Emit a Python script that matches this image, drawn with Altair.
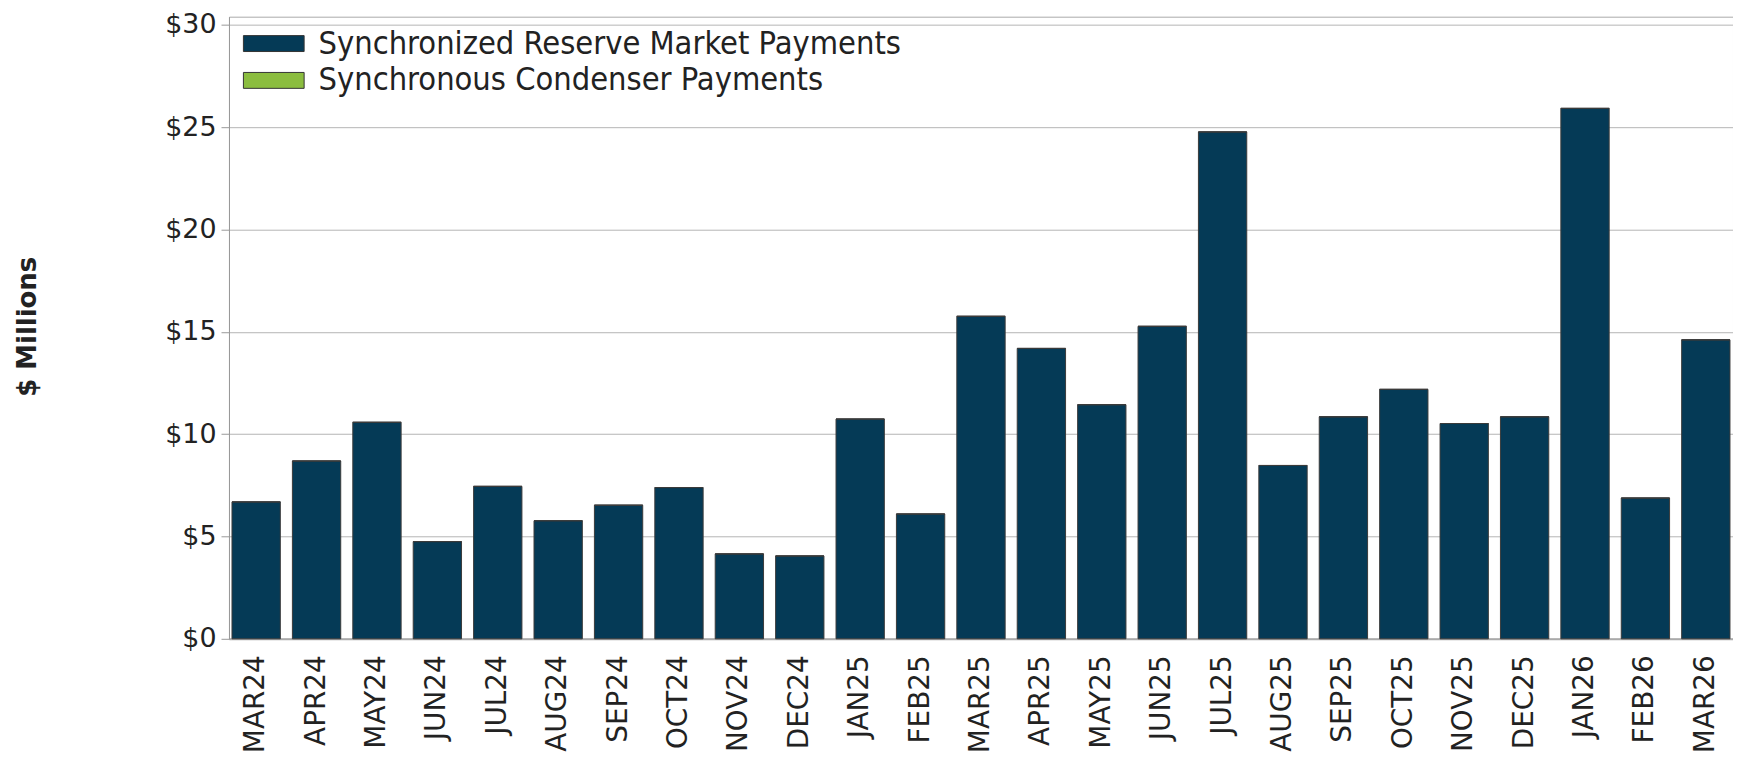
import altair as alt
import pandas as pd

months = ["MAR24", "APR24", "MAY24", "JUN24", "JUL24", "AUG24", "SEP24", "OCT24",
          "NOV24", "DEC24", "JAN25", "FEB25", "MAR25", "APR25", "MAY25", "JUN25",
          "JUL25", "AUG25", "SEP25", "OCT25", "NOV25", "DEC25", "JAN26", "FEB26", "MAR26"]

reserve = [6.69, 8.69, 10.58, 4.75, 7.45, 5.77, 6.53, 7.39, 4.15, 4.05, 10.74, 6.10,
           15.76, 14.19, 11.44, 15.27, 24.77, 8.47, 10.85, 12.19, 10.52, 10.85, 25.92,
           6.88, 14.61]

condenser = [0, 0, 0, 0, 0, 0, 0, 0, 0, 0, 0, 0, 0, 0, 0, 0, 0, 0, 0, 0, 0, 0, 0, 0, 0]

series = ["Synchronized Reserve Market Payments", "Synchronous Condenser Payments"]
colors = ["#053a56", "#8bbd3f"]
y_ticks = [0, 5, 10, 15, 20, 25, 30]

df = pd.DataFrame({
    "month": months,
    "reserve": reserve,
    "base": reserve,
    "top": [r + c for r, c in zip(reserve, condenser)],
    "s0": [series[0]] * len(months),
    "s1": [series[1]] * len(months),
})

x_enc = alt.X("month:N", sort=months,
              scale=alt.Scale(paddingInner=0.2, paddingOuter=0.05),
              axis=alt.Axis(title=None, labelAngle=-90, labelFontSize=28,
                            labelFont="DejaVu Sans", labelColor="#222222",
                            ticks=False, labelPadding=16, domainColor="#aaaaaa",
                            domainWidth=2, grid=False))

y_axis = alt.Axis(values=y_ticks, format="$.0f", labelFontSize=27,
                  labelFont="DejaVu Sans", labelColor="#222222",
                  tickSize=8, tickColor="#999999", labelPadding=5,
                  domainColor="#999999", gridColor="#b4b4b4",
                  title="$ Millions", titleFont="DejaVu Sans",
                  titleFontWeight="bold", titleFontSize=26,
                  titleColor="#222222", titleX=-202, titleY=311,
                  titleAlign="center", titleBaseline="middle", titleAngle=270)
y_scale = alt.Scale(domain=[0, 30.4], nice=False)


def legend(ly):
    return alt.Legend(title=None, orient="none", legendX=14, legendY=ly,
                      direction="vertical",
                      symbolType="M-1,-0.262H1V0.262H-1Z",
                      symbolSize=3721, symbolStrokeColor="#333333",
                      symbolStrokeWidth=1, symbolOpacity=1,
                      labelFontSize=32.5,
                      labelFont="DejaVu Sans Condensed, Liberation Sans",
                      labelColor="#222222", labelOffset=14,
                      padding=0, labelLimit=0)


base = alt.Chart(df)

bars_reserve = base.mark_bar(stroke="#3a3a3a", strokeWidth=1).encode(
    x=x_enc,
    y=alt.Y("reserve:Q", scale=y_scale, axis=y_axis),
    color=alt.Color("s0:N", scale=alt.Scale(domain=[series[0]], range=[colors[0]]),
                    legend=legend(-4)),
)

bars_condenser = base.mark_bar(stroke="#3a3a3a", strokeWidth=1).encode(
    x=x_enc,
    y=alt.Y("top:Q", scale=y_scale),
    y2="base:Q",
    color=alt.Color("s1:N", scale=alt.Scale(domain=[series[1]], range=[colors[1]]),
                    legend=legend(33)),
)

chart = alt.layer(bars_reserve, bars_condenser).resolve_scale(
    color="independent"
).properties(
    width=1511, height=625,
    padding={"left": 222, "top": 7, "right": 0, "bottom": 116},
    autosize=alt.AutoSizeParams(type="none"),
).configure_view(stroke="#aaaaaa", strokeWidth=1)

chart.save("out.html", embed_options={"renderer": "svg", "actions": False})
